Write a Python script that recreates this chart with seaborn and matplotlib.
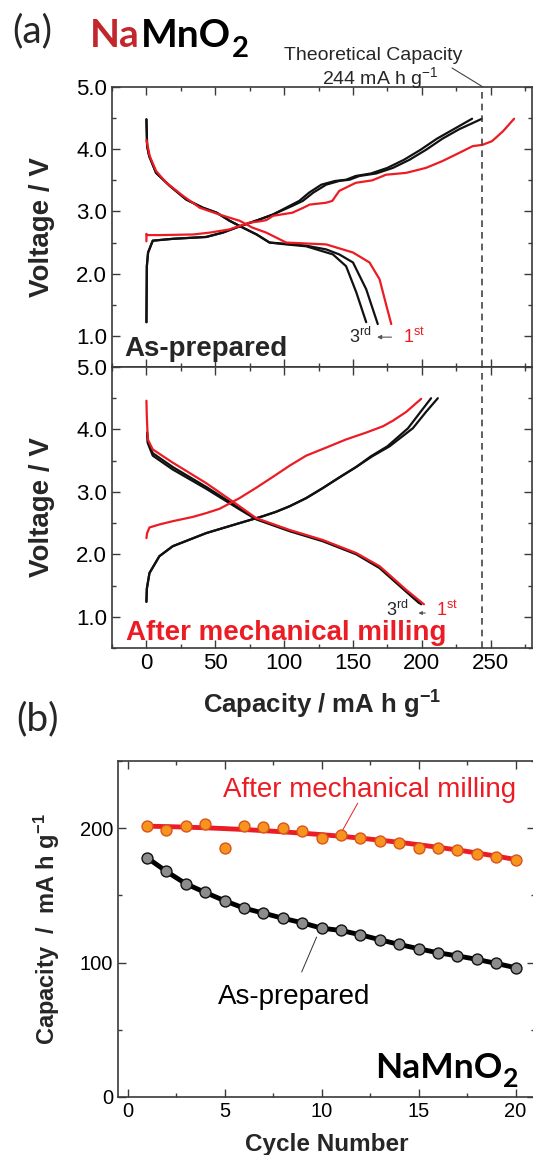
import matplotlib
matplotlib.use("Agg")
import matplotlib.pyplot as plt
import seaborn as sns
from matplotlib.ticker import MultipleLocator, FormatStrFormatter

# ---------------- (a) as-prepared NaMnO2, capacity (mA h/g) vs voltage (V)
ASP_CH1_CAP = [0, 0, 0.5, 10, 34, 46, 60, 74.9, 82, 87, 92, 106, 114, 118.5, 130.5, 135, 140, 152, 164,
               174, 188.6, 203, 215, 227, 237, 244, 251, 259, 267]
ASP_CH1_V = [2.52, 2.64, 2.62, 2.62, 2.63, 2.66, 2.71, 2.82, 2.84, 2.86, 2.93, 2.98, 3.06, 3.11, 3.14,
             3.17, 3.33, 3.46, 3.50, 3.59, 3.62, 3.70, 3.81, 3.94, 4.05, 4.07, 4.13, 4.29, 4.49]
ASP_DC1_CAP = [0, 2.4, 7, 14.5, 26.6, 38.7, 53, 67.7, 77, 87, 101.5, 130.6, 150, 162, 169.3,
               173.5, 177.8]
ASP_DC1_V = [4.15, 3.89, 3.65, 3.46, 3.25, 3.06, 2.95, 2.85, 2.74, 2.66, 2.50, 2.47, 2.34, 2.18, 1.91,
             1.55, 1.19]

ASP_CH_A_CAP = [0, 0.3, 1.2, 4.6, 19.1, 43.4, 55.5, 67.6, 82, 91.8, 106, 113.6, 121, 130.5, 140,
                147.5, 154.7, 166.8, 179, 191, 203, 215, 227, 243.7]
ASP_CH_A_V = [1.22, 2.12, 2.34, 2.53, 2.56, 2.59, 2.66, 2.76, 2.87, 2.95, 3.09, 3.17, 3.30,
              3.43, 3.49, 3.51, 3.57, 3.61, 3.70, 3.83, 3.99, 4.17, 4.32, 4.49]
ASP_CH_B_CAP = [0, 0.3, 1.2, 4.6, 19.1, 43.4, 55.5, 67.6, 82, 91.8, 104, 111, 118, 127, 137, 145,
                152, 163, 175, 187, 199, 211, 223, 236.5]
ASP_CH_B_V = ASP_CH_A_V

ASP_DC_A_CAP = [0, 0.5, 2, 7, 17, 29, 41, 51, 60.4, 70, 80, 89.4, 101.5, 116, 135.4, 145, 152.4,
                159.6]
ASP_DC_A_V = [4.48, 4.05, 3.89, 3.62, 3.41, 3.19, 3.06, 2.98, 2.85, 2.74, 2.63, 2.50, 2.47, 2.44, 2.31,
              2.12, 1.70, 1.22]
ASP_DC_B_CAP = [0, 0.5, 2, 7, 17, 29, 41, 51, 60.4, 70, 80, 89.4, 101.5, 116, 130.5, 140, 150,
                159.6, 168]
ASP_DC_B_V = [4.48, 4.05, 3.89, 3.62, 3.41, 3.19, 3.06, 2.98, 2.85, 2.74, 2.63, 2.50, 2.48, 2.45, 2.39,
              2.31, 2.18, 1.75, 1.19]

# ---------------- (a) after mechanical milling
MIL_CH1_CAP = [0, 0.5, 2.2, 9.7, 19, 33.8, 43.4, 53.2, 67.6, 80, 91.8, 104, 116, 130.6, 145, 159.6,
               171.7, 179, 188.6, 199.5]
MIL_CH1_V = [2.26, 2.34, 2.43, 2.48, 2.53, 2.60, 2.66, 2.73, 2.90, 3.07, 3.24, 3.42, 3.58, 3.71, 3.84,
             3.95, 4.05, 4.14, 4.28, 4.49]
MIL_DC1_CAP = [0, 0.3, 1, 4.6, 19, 43.4, 67.6, 79.7, 104, 128, 152.4, 169.3, 188.7, 201.5]
MIL_DC1_V = [4.46, 4.20, 3.84, 3.68, 3.47, 3.14, 2.77, 2.58, 2.39, 2.23, 2.02, 1.81, 1.43, 1.20]

MIL_CH_A_CAP = [0, 0.3, 2.2, 9.4, 19.1, 43.4, 67.6, 84.5, 94, 104, 116, 128, 140, 152.4, 164, 176.6,
                193.5, 203, 211.6]
MIL_CH_A_V = [1.24, 1.45, 1.70, 1.97, 2.13, 2.34, 2.50, 2.61, 2.68, 2.77, 2.90, 3.06, 3.23, 3.40,
              3.57, 3.73, 4.02, 4.28, 4.50]
MIL_CH_B_CAP = [0, 0.3, 2.2, 9.4, 19.1, 43.4, 67.6, 84.5, 94, 104, 116, 128, 140, 152.4, 163, 175,
                190, 199, 206.7]
MIL_CH_B_V = MIL_CH_A_V
MIL_DC_A_CAP = [0.5, 1, 4.6, 19, 43.4, 67.6, 79.7, 104, 128, 152.4, 169.3, 188.7, 199.5]
MIL_DC_A_V = [3.95, 3.80, 3.62, 3.40, 3.08, 2.74, 2.57, 2.38, 2.22, 2.01, 1.79, 1.41, 1.20]
MIL_DC_B_CAP = [0.5, 1, 4.6, 19, 43.4, 67.6, 79.7, 104, 128, 152.4, 169.3, 188.7, 198]
MIL_DC_B_V = [3.95, 3.78, 3.58, 3.36, 3.05, 2.72, 2.56, 2.37, 2.21, 2.00, 1.78, 1.40, 1.22]

THEO_CAP = 244

# ---------------- (b) cycling
CYCLES = list(range(1, 21))
MIL_CAP = [201.5, 198.8, 201.7, 203, 184.9, 201.7, 201, 200, 198, 192.8, 195, 193, 190.8, 189, 185.4,
           185.6, 183.9, 181, 178.2, 176.5]
MIL_FIT = [201.5, 201.2, 200.8, 200.3, 199.7, 199.0, 198.2, 197.3, 196.3, 195.2, 194.0, 192.6, 191.1,
           189.5, 187.7, 185.8, 183.8, 181.6, 179.2, 176.7]
ASP_CAP = [178, 167.8, 158.6, 152.2, 146, 140.5, 136.8, 133, 129.6, 125.6, 123.9, 120.7, 117, 113.5,
           110.3, 107.3, 105, 102.4, 99.4, 96.2]

RED = "#ec1c24"
DARK_RED = "#c1272d"
SPINE = "#3a3a3a"

sns.set_style("ticks")
plt.rcParams["font.family"] = ["Liberation Sans", "DejaVu Sans"]
plt.rcParams["mathtext.fontset"] = "custom"
plt.rcParams["mathtext.rm"] = "Liberation Sans"
plt.rcParams["mathtext.bf"] = "Liberation Sans:bold"
plt.rcParams["mathtext.it"] = "Liberation Sans:italic"

W, H = 533, 1155
fig = plt.figure(figsize=(W / 100, H / 100), dpi=100)


def px(x, y):
    return x / W, 1 - y / H


ax1 = fig.add_axes([112 / W, 1 - 367 / H, 420 / W, 280 / H])
ax2 = fig.add_axes([112 / W, 1 - 648 / H, 420 / W, 281 / H])
ax3 = fig.add_axes([118 / W, 1 - 1097 / H, 417 / W, 336 / H])


def curve(ax, cap, volt, color):
    sns.lineplot(x=cap, y=volt, sort=False, estimator=None, color=color, linewidth=1.6, ax=ax)


def style_common(ax, size):
    for sp in ax.spines.values():
        sp.set_color(SPINE)
        sp.set_linewidth(1.2)
    ax.tick_params(which="both", direction="in", top=True, right=True, colors=SPINE,
                   labelcolor="black", labelsize=size)
    ax.tick_params(which="major", length=6, width=1)
    ax.tick_params(which="minor", length=3, width=1)


def style_voltage(ax, show_x):
    ax.set_xlim(-25, 280)
    ax.set_ylim(0.5, 5.0)
    ax.xaxis.set_major_locator(MultipleLocator(50))
    ax.xaxis.set_minor_locator(MultipleLocator(25))
    ax.yaxis.set_major_locator(MultipleLocator(1))
    ax.yaxis.set_minor_locator(MultipleLocator(0.5))
    ax.yaxis.set_major_formatter(FormatStrFormatter("%.1f"))
    style_common(ax, 16)
    ax.tick_params(labelbottom=show_x)
    ax.set_ylabel("Voltage / V", fontsize=20, fontweight="bold")
    ax.yaxis.set_label_coords(-0.136, 0.5)
    ax.axvline(THEO_CAP, color="#444444", lw=1.2, ls=(0, (4, 3)))


# top: as-prepared
curve(ax1, ASP_CH_B_CAP, ASP_CH_B_V, "#111111")
curve(ax1, ASP_CH_A_CAP, ASP_CH_A_V, "#111111")
curve(ax1, ASP_DC_B_CAP, ASP_DC_B_V, "#111111")
curve(ax1, ASP_DC_A_CAP, ASP_DC_A_V, "#111111")
curve(ax1, ASP_CH1_CAP, ASP_CH1_V, RED)
curve(ax1, ASP_DC1_CAP, ASP_DC1_V, RED)
style_voltage(ax1, False)
ax1.set_xlabel("")
ax1.text(-16, 0.68, "As-prepared", fontsize=20, fontweight="bold", va="baseline")
ax1.text(146.8, 0.98, "3$^{\\rm rd}$", fontsize=13, va="center")
ax1.text(186, 0.98, "1$^{\\rm st}$", fontsize=13, va="center", color=RED)
ax1.annotate("", xy=(165.5, 0.98), xytext=(180, 0.98),
             arrowprops=dict(arrowstyle="-|>", color="#555555", lw=0.8, mutation_scale=6))

# bottom: after milling
curve(ax2, MIL_CH_B_CAP, MIL_CH_B_V, "#111111")
curve(ax2, MIL_CH_A_CAP, MIL_CH_A_V, "#111111")
curve(ax2, MIL_DC_B_CAP, MIL_DC_B_V, "#111111")
curve(ax2, MIL_DC_A_CAP, MIL_DC_A_V, "#111111")
curve(ax2, MIL_CH1_CAP, MIL_CH1_V, RED)
curve(ax2, MIL_DC1_CAP, MIL_DC1_V, RED)
style_voltage(ax2, True)
ax2.set_xlabel("Capacity / mA h g$^{\\mathbf{-1}}$", fontsize=18.5, fontweight="bold", labelpad=11)
ax2.text(-14.5, 0.63, "After mechanical milling", fontsize=20, fontweight="bold", color=RED,
         va="baseline")
ax2.text(174, 1.11, "3$^{\\rm rd}$", fontsize=13, va="center")
ax2.text(210.3, 1.11, "1$^{\\rm st}$", fontsize=13, va="center", color=RED)
ax2.annotate("", xy=(195.5, 1.06), xytext=(204.5, 1.06),
             arrowprops=dict(arrowstyle="-|>", color="#555555", lw=0.8, mutation_scale=5))

# theoretical capacity note above top panel
fig.text(*px(373, 55), "Theoretical Capacity", fontsize=14, ha="center", va="center")
fig.text(*px(380, 78), "244 mA h g$^{-1}$", fontsize=14, ha="center", va="center")
fig.add_artist(plt.Line2D([452 / W, 483 / W], [1 - 68 / H, 1 - 87 / H], color="#444444", lw=0.8))

# (b) cycling performance
sns.lineplot(x=CYCLES, y=MIL_FIT, color=RED, linewidth=3.5, ax=ax3)
sns.lineplot(x=CYCLES, y=ASP_CAP, color="black", linewidth=3.5, ax=ax3)
sns.scatterplot(x=CYCLES, y=MIL_CAP, color="#f7941d", edgecolor="#d9531e", linewidth=1, s=62,
                zorder=3, ax=ax3)
sns.scatterplot(x=CYCLES, y=ASP_CAP, color="#8c8c8c", edgecolor="#111111", linewidth=1, s=62,
                zorder=3, ax=ax3)
ax3.set_xlim(-0.5, 21)
ax3.set_ylim(0, 250)
ax3.xaxis.set_major_locator(MultipleLocator(5))
ax3.xaxis.set_minor_locator(MultipleLocator(2.5))
ax3.yaxis.set_major_locator(MultipleLocator(100))
ax3.yaxis.set_minor_locator(MultipleLocator(50))
style_common(ax3, 14.5)
ax3.set_xlabel("Cycle Number", fontsize=17.5, fontweight="bold", labelpad=9)
ax3.set_ylabel("Capacity  /  mA h g$^{\\mathbf{-1}}$", fontsize=17, fontweight="bold")
ax3.yaxis.set_label_coords(-0.134, 0.5)
ax3.text(12.47, 228.3, "After mechanical milling", fontsize=20, color=RED, ha="center", va="center")
ax3.plot([11.86, 11.08], [218.6, 198.5], color=RED, lw=0.7)
ax3.text(8.56, 74.3, "As-prepared", fontsize=20, color="black", ha="center", va="center")
ax3.plot([9.74, 8.97], [119, 93], color="#333333", lw=0.7)

# panel letters and formula labels
fig.text(*px(12, 31), "(a)", fontsize=28, family="Lato", va="center")
fig.text(*px(16, 719), "(b)", fontsize=28, family="Lato", va="center")

renderer = fig.canvas.get_renderer()


def formula(x0, y0, parts, size):
    x = x0
    for s, c, sub in parts:
        fs = size * 0.75 if sub else size
        dy = 0.26 * size * 100 / 72 / H if sub else 0
        t = fig.text(x, y0 - dy, s, color=c, fontsize=fs, fontweight="bold", family="Lato",
                     ha="left", va="baseline")
        x = t.get_window_extent(renderer).x1 / W + 0.002


formula(90 / W, 1 - 47 / H, [("Na", DARK_RED, False), ("MnO", "black", False), ("2", "black", True)], 28)
formula(375 / W, 1 - 1078 / H, [("NaMnO", "black", False), ("2", "black", True)], 25.5)

fig.savefig("out.png", dpi=100)
